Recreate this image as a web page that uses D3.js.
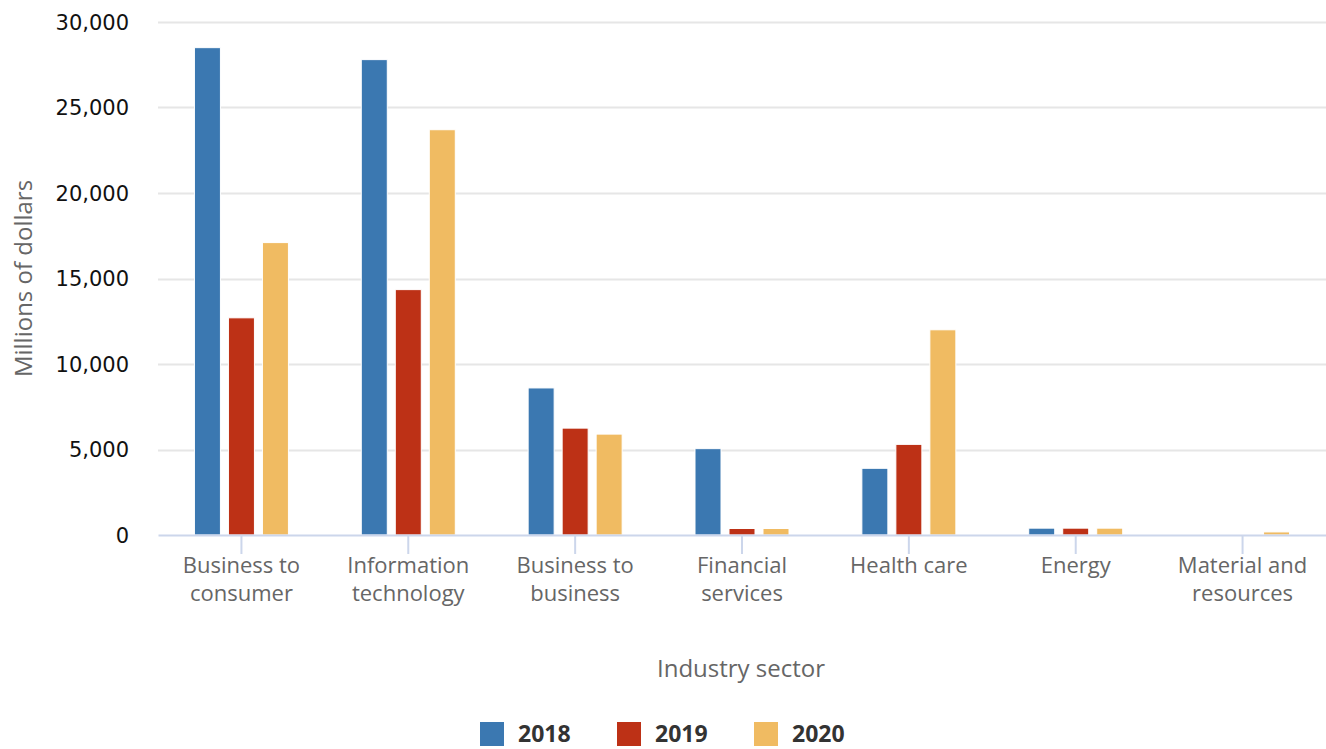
<!DOCTYPE html>
<html><head><meta charset="utf-8">
<script src="https://cdn.jsdelivr.net/npm/d3@7"></script>
<style>body{margin:0;background:#fff}svg{display:block}</style>
</head><body><svg id="c" width="1326" height="749"></svg>
<script>
const categories = [["Business to","consumer"],["Information","technology"],["Business to","business"],["Financial","services"],["Health care"],["Energy"],["Material and","resources"]];
const series = ["2018","2019","2020"];
const values2018 = [28500, 27800, 8600, 5050, 3900, 400, 0];
const values2019 = [12700, 14350, 6250, 380, 5300, 400, 0];
const values2020 = [17100, 23700, 5900, 380, 12000, 400, 180];
const yTicks = [0, 5000, 10000, 15000, 20000, 25000, 30000];
const colors = ["#3b78b1", "#bd3116", "#f0bb62"];
const allValues = [values2018, values2019, values2020];

const svg = d3.select("#c");
const L = 158, R = 1326, T = 22, B = 535;
const x = d3.scaleBand().domain(d3.range(categories.length)).range([L, R]);
const y = d3.scaleLinear().domain([0, 30000]).range([B, T]);
const xs = d3.scaleBand().domain(series).range([-47, 47]).paddingInner(8 / 34);

// gridlines
svg.append("g").selectAll("line").data(yTicks.slice(1)).join("line")
  .attr("x1", L).attr("x2", R).attr("y1", d => Math.round(y(d)) + 0.5).attr("y2", d => Math.round(y(d)) + 0.5)
  .attr("stroke", "#e6e6e6").attr("stroke-width", 2);

// y labels
const yAxis = d3.axisLeft(y).tickValues(yTicks).tickFormat(d3.format(",")).tickSize(0).tickPadding(0);
const ya = svg.append("g").attr("transform", `translate(129,0)`).call(yAxis);
ya.select(".domain").remove();
ya.selectAll("text").attr("font-family", "DejaVu Sans").attr("font-size", 21).attr("fill", "#111").attr("dy", "0.35em");

// bars
series.forEach((s, si) => {
  svg.append("g").selectAll("rect").data(allValues[si]).join("rect")
    .attr("x", (d, i) => x(i) + x.bandwidth() / 2 + xs(s))
    .attr("width", xs.bandwidth())
    .attr("y", d => y(d))
    .attr("height", d => B - y(d))
    .attr("fill", colors[si]).attr("stroke", "#fff").attr("stroke-width", 1);
});

// x axis
const xAxis = d3.axisBottom(x).tickSize(19).tickFormat("").tickSizeOuter(0);
const xa = svg.append("g").attr("transform", `translate(0,${B})`).call(xAxis);
xa.select(".domain").attr("stroke", "#ccd6eb").attr("stroke-width", 2);
xa.selectAll(".tick line").attr("stroke", "#ccd6eb").attr("stroke-width", 2);

const xl = svg.append("g").selectAll("text").data(categories).join("text")
  .attr("x", (d, i) => x(i) + x.bandwidth() / 2).attr("y", 573)
  .attr("text-anchor", "middle").attr("font-family", "Open Sans").attr("font-size", 22).attr("fill", "#666");
xl.selectAll("tspan").data(d => d).join("tspan")
  .attr("x", function() { return this.parentNode.getAttribute("x"); })
  .attr("dy", (d, i) => i === 0 ? 0 : 28).text(d => d);

// axis titles
svg.append("text").attr("x", (L + R) / 2 - 1).attr("y", 677).attr("text-anchor", "middle")
  .attr("font-family", "Open Sans").attr("font-size", 24).attr("fill", "#666").text("Industry sector");
svg.append("text").attr("transform", `translate(32,${(T + B) / 2}) rotate(-90)`).attr("text-anchor", "middle")
  .attr("font-family", "Open Sans").attr("font-size", 24).attr("fill", "#666").text("Millions of dollars");

// legend
const lx = [480, 617, 754];
const lg = svg.append("g").selectAll("g").data(series).join("g")
  .attr("transform", (d, i) => `translate(${lx[i]},722)`);
lg.append("rect").attr("width", 24).attr("height", 24).attr("fill", (d, i) => colors[i]);
lg.append("text").attr("x", 38).attr("y", 20).attr("font-family", "Open Sans").attr("font-weight", "bold")
  .attr("font-size", 23).attr("fill", "#333").text(d => d);
</script></body></html>
